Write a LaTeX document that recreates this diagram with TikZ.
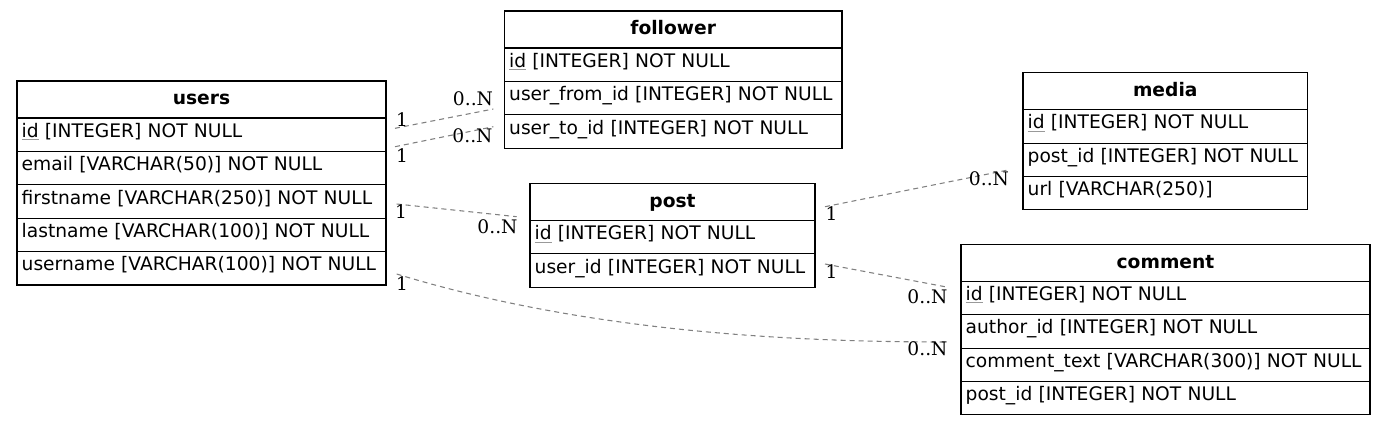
\documentclass[tikz,border=0pt]{standalone}
\usepackage{fontspec}
\setmainfont{DejaVu Sans}
\newfontfamily\lblfont{DejaVu Serif}
\usetikzlibrary{calc}
\definecolor{edgegray}{RGB}{128,128,128}
\newcommand{\pk}[1]{\textcolor{gray!80}{\underline{\textcolor{black}{#1}}}}
\begin{document}
\begin{tikzpicture}[x=0.75pt,y=-0.75pt,
  cell/.style={draw, line width=0.8pt, anchor=north west, inner xsep=3.5pt, inner ysep=0pt, outer sep=0pt,
    text height=11pt, text depth=7.2pt, align=left, minimum height=25.05pt,
    font=\fontsize{14pt}{17pt}\selectfont},
  hdr/.style={cell, align=center, minimum height=27.75pt, text height=12pt, text depth=3.8pt,
    font=\fontsize{14pt}{17pt}\selectfont\bfseries},
  edge/.style={draw=edgegray, line width=0.8pt, dash pattern=on 3.75pt off 3pt},
  lbl/.style={font=\lblfont\fontsize{14pt}{17pt}\selectfont, anchor=base, inner sep=0pt}]
\useasboundingbox (0,0) rectangle (1385,426);

% users
\node[hdr, text width=269.75pt] (users) at (17,81) {users};
\node[cell, text width=269.75pt] (users-id) at (users.south west) {\mbox{\pk{id} [INTEGER] NOT NULL}};
\node[cell, text width=269.75pt] (users-email) at (users-id.south west) {\mbox{email [VARCHAR(50)] NOT NULL}};
\node[cell, text width=269.75pt] (users-first) at (users-email.south west) {\mbox{firstname [VARCHAR(250)] NOT NULL}};
\node[cell, text width=269.75pt] (users-last) at (users-first.south west) {\mbox{lastname [VARCHAR(100)] NOT NULL}};
\node[cell, text width=269.75pt] (users-uname) at (users-last.south west) {\mbox{username [VARCHAR(100)] NOT NULL}};

% follower
\node[hdr, text width=246.1pt] (fol) at (504.5,11) {follower};
\node[cell, text width=246.1pt] (fol-id) at (fol.south west) {\mbox{\pk{id} [INTEGER] NOT NULL}};
\node[cell, text width=246.1pt] (fol-from) at (fol-id.south west) {\mbox{user\_from\_id [INTEGER] NOT NULL}};
\node[cell, text width=246.1pt] (fol-to) at (fol-from.south west) {\mbox{user\_to\_id [INTEGER] NOT NULL}};

% post
\node[hdr, text width=206.75pt] (post) at (530,183.5) {post};
\node[cell, text width=206.75pt] (post-id) at (post.south west) {\mbox{\pk{id} [INTEGER] NOT NULL}};
\node[cell, text width=206.75pt] (post-uid) at (post-id.south west) {\mbox{user\_id [INTEGER] NOT NULL}};

% media
\node[hdr, text width=206.4pt] (media) at (1023,72.7) {media};
\node[cell, text width=206.4pt] (media-id) at (media.south west) {\mbox{\pk{id} [INTEGER] NOT NULL}};
\node[cell, text width=206.4pt] (media-pid) at (media-id.south west) {\mbox{post\_id [INTEGER] NOT NULL}};
\node[cell, text width=206.4pt] (media-url) at (media-pid.south west) {\mbox{url [VARCHAR(250)]}};

% comment
\node[hdr, text width=299.75pt] (com) at (961,244.3) {comment};
\node[cell, text width=299.75pt] (com-id) at (com.south west) {\mbox{\pk{id} [INTEGER] NOT NULL}};
\node[cell, text width=299.75pt] (com-author) at (com-id.south west) {\mbox{author\_id [INTEGER] NOT NULL}};
\node[cell, text width=299.75pt] (com-text) at (com-author.south west) {\mbox{comment\_text [VARCHAR(300)] NOT NULL}};
\node[cell, text width=299.75pt] (com-pid) at (com-text.south west) {\mbox{post\_id [INTEGER] NOT NULL}};

% edges
\draw[edge] ($(users-id.east)+(9,-6.4)$) -- ($(fol-from.west)+(-11.2,10.9)$);
\draw[edge] ($(users-id.east)+(9,12)$) -- ($(fol-to.west)+(-11.2,-4.8)$);
\draw[edge] ($(users-first.east)+(10.7,2.5)$) -- ($(post-id.north west)+(-13.3,-3.8)$);
\draw[edge] ($(users-uname.east)+(10.7,5.7)$) .. controls +(183,56) and +(-167,0) .. ($(com-author.west)+(-14,10.6)$);
\draw[edge] ($(post.east)+(10,4.7)$) -- ($(media-pid.west)+(-15,10.2)$);
\draw[edge] ($(post-uid.east)+(10,-6.6)$) -- ($(com-id.west)+(-16,-11.3)$);

% labels
\node[lbl] (l1a) at (402,126) {1};
\node[lbl] (l1b) at (473,105) {0..N};
\node[lbl] (l2a) at (402,162) {1};
\node[lbl] (l2b) at (472.5,142) {0..N};
\node[lbl] (l3a) at (401,218) {1};
\node[lbl] (l3b) at (497.5,233) {0..N};
\node[lbl] (l4a) at (402,290) {1};
\node[lbl] (l4b) at (927.5,355) {0..N};
\node[lbl] (l5a) at (831.5,220) {1};
\node[lbl] (l5b) at (989,185) {0..N};
\node[lbl] (l6a) at (831.5,278) {1};
\node[lbl] (l6b) at (927.5,303) {0..N};
\end{tikzpicture}
\end{document}
